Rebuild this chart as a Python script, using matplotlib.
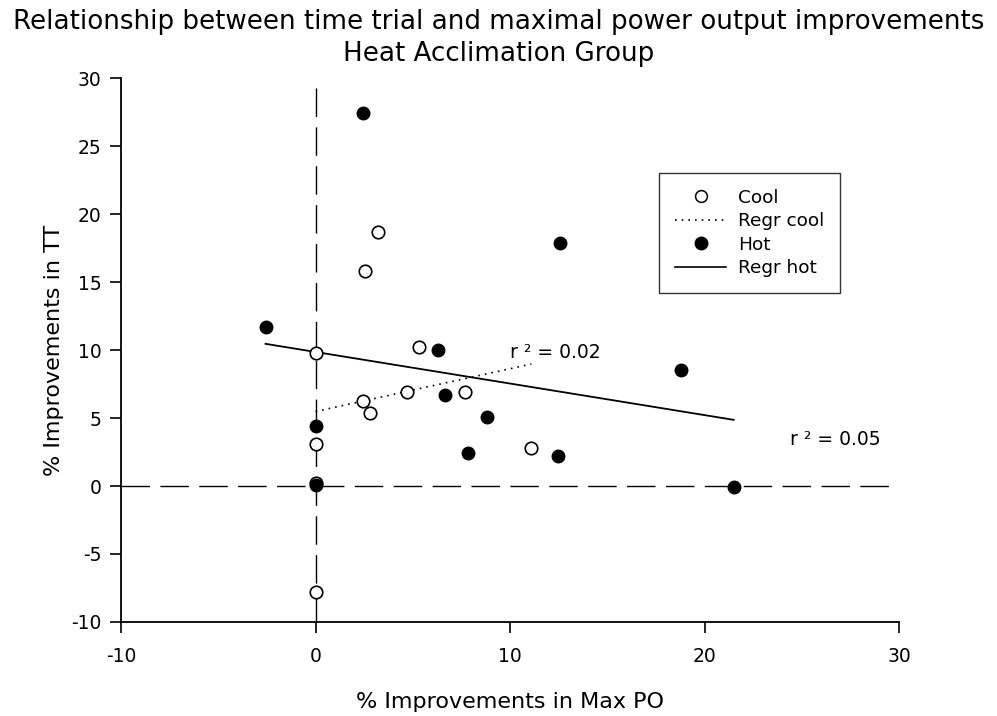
import numpy as np
import matplotlib
matplotlib.use("Agg")
import matplotlib.pyplot as plt
from matplotlib.lines import Line2D

plt.rcParams['font.family'] = ['DejaVu Sans']

cool_x = [0.0, 0.0, 0.0, 0.0, 2.52, 3.19, 2.42, 2.78, 4.68, 5.30, 7.71, 11.1]
cool_y = [9.8, 3.1, 0.2, -7.8, 15.8, 18.7, 6.25, 5.37, 6.9, 10.2, 6.9, 2.8]
hot_x = [-2.57, 2.45, 0.0, 0.0, 6.28, 6.68, 8.83, 7.86, 12.45, 12.55, 18.8, 21.5]
hot_y = [11.7, 27.4, 4.4, 0.1, 10.0, 6.7, 5.07, 2.4, 2.2, 17.9, 8.5, -0.1]
r2_labels = ["r \u00b2 = 0.02", "r \u00b2 = 0.05"]
xticks = [-10, 0, 10, 20, 30]
yticks = [-10, -5, 0, 5, 10, 15, 20, 25, 30]

fig = plt.figure(figsize=(9.97, 7.16), dpi=100)
ax = fig.add_axes([0.1214, 0.1313, 0.7803, 0.7597])
ax.set_xlim(-10, 30)
ax.set_ylim(-10, 30)

# reference lines
ax.plot([0, 0], [-10, 30], color='black', lw=1.0, dashes=(20.5, 7.5), zorder=1)
ax.plot([-10, 30], [0, 0], color='black', lw=1.0, dashes=(20.5, 7.5), zorder=1)

# regression lines
cx = np.array(cool_x); cy = np.array(cool_y)
hx = np.array(hot_x); hy = np.array(hot_y)
pc = np.polyfit(cx, cy, 1)
ph = np.polyfit(hx, hy, 1)
xc = np.array([cx.min(), cx.max()])
xh = np.array([hx.min(), hx.max()])
ax.plot(xc, np.polyval(pc, xc), color='black', lw=1.2, linestyle=(0, (1, 3)), zorder=2)
ax.plot(xh, np.polyval(ph, xh), color='black', lw=1.3, zorder=2)

ax.plot(cool_x, cool_y, 'o', mfc='white', mec='black', mew=1.2, ms=9, zorder=3, linestyle='none')
ax.plot(hot_x, hot_y, 'o', mfc='black', mec='black', ms=9, zorder=4, linestyle='none')

ax.text(10.0, 9.85, r2_labels[0], fontsize=13.5, va='center', ha='left')
ax.text(24.4, 3.45, r2_labels[1], fontsize=13.5, va='center', ha='left')

for s in ['top', 'right']:
    ax.spines[s].set_visible(False)
for s in ['left', 'bottom']:
    ax.spines[s].set_linewidth(1.3)
ax.set_xticks(xticks)
ax.set_yticks(yticks)
ax.set_xticklabels([str(t) for t in xticks])
ax.set_yticklabels([str(t) for t in yticks])
ax.tick_params(direction='out', length=8, width=1.2, labelsize=13.5)
ax.tick_params(axis='x', pad=10)
ax.tick_params(axis='y', pad=6)

ax.set_xlabel('% Improvements in Max PO', fontsize=16, labelpad=19)
ax.set_ylabel('% Improvements in TT', fontsize=16, labelpad=5)

fig.text(0.5, 0.9595, 'Relationship between time trial and maximal power output improvements',
         ha='center', va='baseline', fontsize=18.8)
fig.text(0.5, 0.9148, 'Heat Acclimation Group', ha='center', va='baseline', fontsize=18.8)

handles = [
    Line2D([], [], marker='o', mfc='white', mec='black', mew=1.1, ms=8.5, linestyle='none'),
    Line2D([], [], color='black', lw=1.2, linestyle=(0, (1, 3))),
    Line2D([], [], marker='o', mfc='black', mec='black', ms=9, linestyle='none'),
    Line2D([], [], color='black', lw=1.2),
]
leg = ax.legend(handles, ['Cool', 'Regr cool', 'Hot', 'Regr hot'],
                loc='upper left', bbox_to_anchor=(0.6915, 0.8254),
                fontsize=13.3, frameon=True, fancybox=False, edgecolor='black',
                handlelength=2.8, handletextpad=0.65, borderpad=0.85, labelspacing=0.3,
                borderaxespad=0)
leg.get_frame().set_linewidth(1.0)

fig.savefig('out.png', dpi=100)
